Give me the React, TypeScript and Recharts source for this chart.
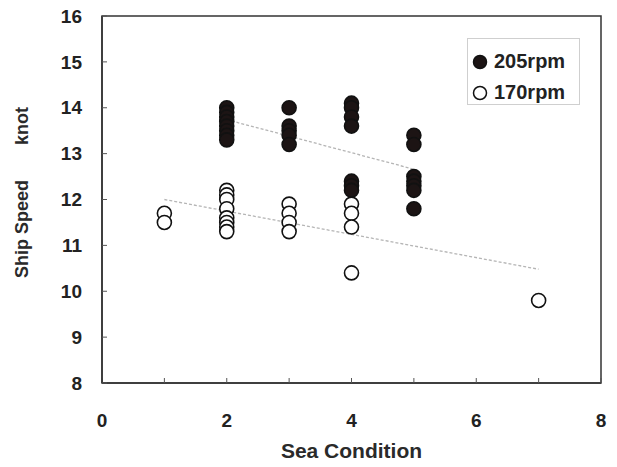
import { ScatterChart, Scatter, XAxis, YAxis, ReferenceLine, ReferenceArea, Legend } from 'recharts'

const FONT = '"Liberation Sans", Arial, sans-serif'

const xTicks = [0, 1, 2, 3, 4, 5, 6, 7, 8]
const yTicks = [8, 9, 10, 11, 12, 13, 14, 15, 16]

// 205rpm (filled)
const rpm205X = [2, 2, 2, 2, 2, 2, 2, 2, 3, 3, 3, 3, 3, 4, 4, 4, 4, 4, 4, 4, 5, 5, 5, 5, 5, 5, 5]
const rpm205Y = [14.0, 13.9, 13.8, 13.7, 13.6, 13.5, 13.4, 13.3, 14.0, 13.6, 13.5, 13.4, 13.2, 14.1, 14.0, 13.8, 13.6, 12.4, 12.3, 12.2, 13.4, 13.2, 12.5, 12.4, 12.3, 12.2, 11.8]

// 170rpm (open)
const rpm170X = [1, 1, 2, 2, 2, 2, 2, 2, 2, 2, 3, 3, 3, 3, 4, 4, 4, 4, 7]
const rpm170Y = [11.7, 11.5, 12.2, 12.1, 12.0, 11.8, 11.6, 11.5, 11.4, 11.3, 11.9, 11.7, 11.5, 11.3, 11.9, 11.7, 11.4, 10.4, 9.8]

// trend lines
const fit205X = [2, 5]
const fit205Y = [13.74, 12.66]
const fit170X = [1, 7]
const fit170Y = [12.0, 10.48]

const filled = rpm205X.map((x, i) => ({ x, y: rpm205Y[i] }))
const open = rpm170X.map((x, i) => ({ x, y: rpm170Y[i] }))

const tickStyle = { fontSize: 19, fill: '#222', fontWeight: 'bold' as const, fontFamily: FONT }

const Dot = (fill: string) => (p: any) => (
  <circle cx={p.cx} cy={p.cy} r={7} fill={fill} stroke="#111" strokeWidth={1.6} />
)

const LegendBox = () => (
  <div style={{ border: '1px solid #cfcfcf', background: '#fff', width: 113, boxSizing: 'border-box', padding: '7px 0 0 4px', height: 67, fontFamily: FONT, fontSize: 20, fontWeight: 'bold', color: '#222', lineHeight: '31px' }}>
    {[['#1c1414', '205rpm'], ['#fff', '170rpm']].map(([c, l]) => (
      <div key={l} style={{ display: 'flex', alignItems: 'center' }}>
        <svg width={16} height={16} style={{ marginRight: 6 }}>
          <circle cx={8} cy={8} r={6.5} fill={c} stroke="#111" strokeWidth={1.5} />
        </svg>
        {l}
      </div>
    ))}
  </div>
)

export default function App() {
  return (
    <div style={{ position: 'absolute', left: 0, top: 0, background: '#fff' }}>
      <ScatterChart width={617} height={467} margin={{ top: 16, right: 16, bottom: 0, left: 0 }}>
        <XAxis type="number" dataKey="x" domain={[0, 8]} ticks={xTicks} interval={0} height={84}
          tickSize={-5} tickMargin={36} tick={tickStyle} tickFormatter={v => (v % 2 === 0 ? String(v) : '')}
          axisLine={{ stroke: '#333', strokeWidth: 1.5 }} tickLine={{ stroke: '#555' }}
          label={{ content: ({ viewBox }: any) => (
            <text x={viewBox.x + viewBox.width / 2} y={458} textAnchor="middle" fontSize={21} fontWeight="bold" fontFamily={FONT} fill="#2a2a2a">Sea Condition</text>
          ) }} />
        <YAxis type="number" dataKey="y" domain={[8, 16]} ticks={yTicks} interval={0} width={102}
          tickSize={-5} tickMargin={25} tick={tickStyle}
          axisLine={{ stroke: '#333', strokeWidth: 1.5 }} tickLine={{ stroke: '#555' }}
          label={{ content: ({ viewBox }: any) => {
            const cx = 28
            const cy = viewBox.y + viewBox.height / 2 - 7
            return (
              <text x={cx} y={cy} transform={`rotate(-90 ${cx} ${cy})`} textAnchor="middle" fontSize={18} fontWeight="bold" fontFamily={FONT} fill="#2a2a2a">
                {'Ship Speed\u00A0\u00A0\u00A0\u00A0\u00A0\u00A0\u00A0knot'}
              </text>
            )
          } }} />
        <ReferenceArea x1={0} x2={8} y1={8} y2={16} fill="none" stroke="#333" strokeWidth={1.5} />
        <ReferenceLine segment={[{ x: fit205X[0], y: fit205Y[0] }, { x: fit205X[1], y: fit205Y[1] }]} stroke="#b5b5b5" strokeWidth={1.3} strokeDasharray="3 2" />
        <ReferenceLine segment={[{ x: fit170X[0], y: fit170Y[0] }, { x: fit170X[1], y: fit170Y[1] }]} stroke="#b5b5b5" strokeWidth={1.3} strokeDasharray="3 2" />
        <Scatter name="205rpm" data={filled} shape={Dot('#1c1414')} isAnimationActive={false} />
        <Scatter name="170rpm" data={open} shape={Dot('#fff')} isAnimationActive={false} />
        <Legend layout="vertical" align="center" verticalAlign="middle" content={<LegendBox />}
          wrapperStyle={{ left: 467, top: 38, width: 113 }} />
      </ScatterChart>
    </div>
  )
}
